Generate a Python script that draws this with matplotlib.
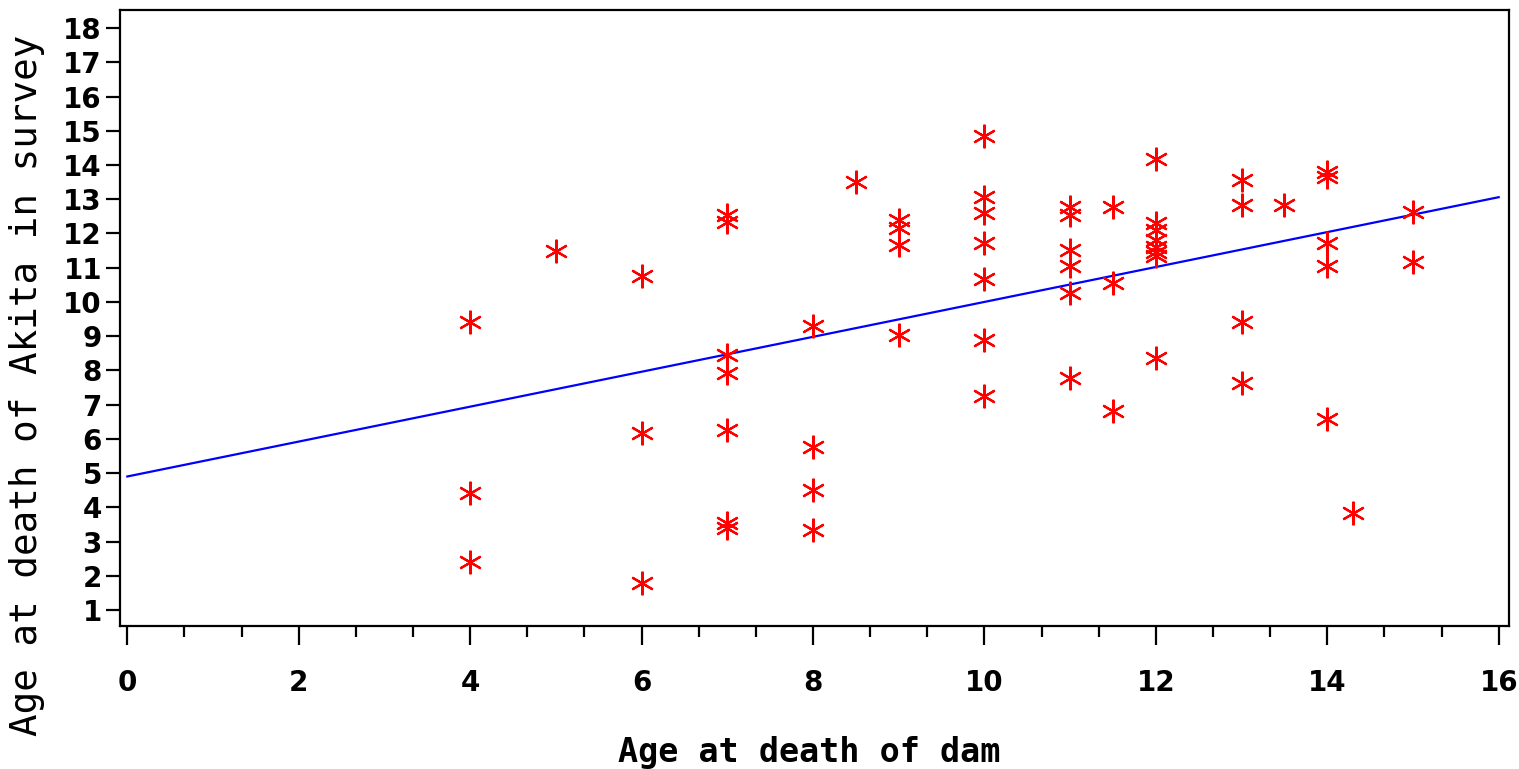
import matplotlib
matplotlib.use("Agg")
import matplotlib.pyplot as plt
from matplotlib.ticker import MultipleLocator
import numpy as np

# Data
dam_age = [4, 4, 4,
           5,
           6, 6, 6,
           7, 7, 7, 7, 7, 7, 7,
           8, 8, 8, 8,
           8.5,
           9, 9, 9, 9,
           10, 10, 10, 10, 10, 10, 10,
           11, 11, 11, 11, 11, 11,
           11.5, 11.5, 11.5,
           12, 12, 12, 12, 12, 12, 12, 12,
           13, 13, 13, 13,
           13.5,
           14, 14, 14, 14, 14,
           14.3,
           15, 15]
akita_age = [9.40, 4.43, 2.41,
             11.49,
             10.75, 6.16, 1.78,
             12.53, 12.33, 8.45, 7.91, 6.26, 3.53, 3.39,
             9.30, 5.77, 4.50, 3.34,
             13.51,
             12.39, 12.15, 11.66, 9.03,
             14.84, 13.07, 12.60, 11.71, 10.67, 8.89, 7.25,
             12.78, 12.55, 11.51, 11.05, 10.25, 7.77,
             12.76, 10.54, 6.81,
             14.17, 12.30, 12.10, 11.80, 11.60, 11.45, 11.35, 8.35,
             13.56, 12.83, 9.40, 7.62,
             12.83,
             13.80, 13.66, 11.71, 11.06, 6.58,
             3.82,
             12.63, 11.17]

# Regression line (intercept, slope)
fit_intercept = 4.9
fit_slope = 0.51
fit_x = [0, 16]

x_ticks = [0, 2, 4, 6, 8, 10, 12, 14, 16]
y_ticks = list(range(1, 19))

fig = plt.figure(figsize=(15.19, 7.69), dpi=100)
ax = fig.add_axes([0.0790, 0.1860, 0.9144, 0.8006])

fit_y = [fit_intercept + fit_slope * v for v in fit_x]
ax.plot(fit_x, fit_y, color=(0, 0, 1), lw=1.6, zorder=2)
ax.plot(dam_age, akita_age, linestyle="none", marker=(6, 2, 0),
        markersize=17, markeredgewidth=1.6, color=(1, 0, 0), zorder=3)

ax.set_xlim(-0.085, 16.12)
ax.set_ylim(0.533, 18.52)

ax.set_xticks(x_ticks)
ax.set_yticks(y_ticks)
ax.xaxis.set_minor_locator(MultipleLocator(2 / 3))
ax.tick_params(axis="x", which="major", direction="out", length=14, width=1.6,
               pad=17, labelsize=20)
ax.tick_params(axis="x", which="minor", direction="out", length=8, width=1.6)
ax.tick_params(axis="y", which="major", direction="out", length=10, width=1.6,
               pad=3, labelsize=20)
for lab in ax.get_xticklabels() + ax.get_yticklabels():
    lab.set_fontweight("bold")
    lab.set_fontfamily("DejaVu Sans")

for sp in ax.spines.values():
    sp.set_linewidth(1.6)
    sp.set_color("black")

fig.text(0.018, 0.499, "Age at death of Akita in survey", rotation=90,
         ha="center", va="center", fontsize=27, family="DejaVu Sans Mono",
         color="black")
fig.text(0.533, 0.022, "Age at death of dam", ha="center", va="center",
         fontsize=24, family="DejaVu Sans Mono", fontweight="bold",
         color="black")

fig.savefig("out.png", dpi=100, facecolor="white")
